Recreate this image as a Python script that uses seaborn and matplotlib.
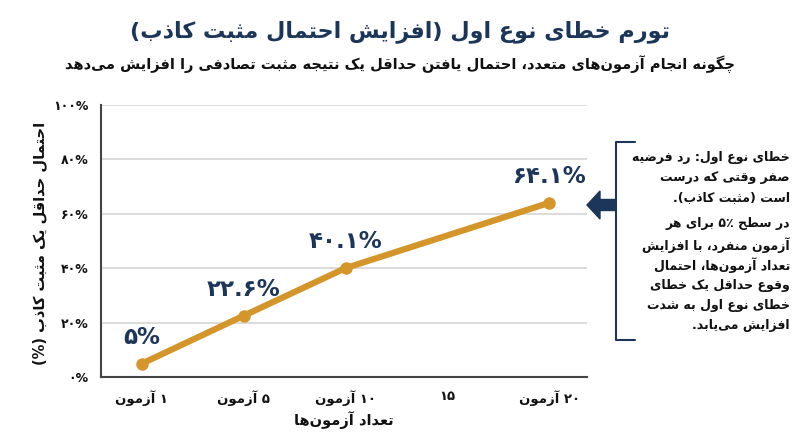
import re
import matplotlib
matplotlib.use("Agg")
import matplotlib.pyplot as plt
import seaborn as sns
from matplotlib.lines import Line2D
from matplotlib.patches import FancyArrow

# --- Data ---
tick_tests = [1, 5, 10, 15, 20]
tick_labels = ["۱ آزمون", "۵ آزمون", "۱۰ آزمون", "۱۵", "۲۰ آزمون"]
tests = [1, 5, 10, 20]
fwer = [5.0, 22.6, 40.1, 64.1]
point_labels = ["۵%", "۲۲.۶%", "۴۰.۱%", "۶۴.۱%"]
y_ticks = [0, 20, 40, 60, 80, 100]
y_tick_labels = ["۰%", "۲۰%", "۴۰%", "۶۰%", "۸۰%", "۱۰۰%"]

title = "تورم خطای نوع اول (افزایش احتمال مثبت کاذب)"
subtitle = "چگونه انجام آزمون‌های متعدد، احتمال یافتن حداقل یک نتیجه مثبت تصادفی را افزایش می‌دهد"
x_label = "تعداد آزمون‌ها"
y_label = "احتمال حداقل یک مثبت کاذب (%)"
note_1 = ["خطای نوع اول: رد فرضیه", "صفر وقتی که درست", "است (مثبت کاذب)."]
note_2 = ["در سطح ۵٪ برای هر", "آزمون منفرد، با افزایش", "تعداد آزمون‌ها، احتمال",
          "وقوع حداقل یک خطای", "خطای نوع اول به شدت", "افزایش می‌یابد."]

# --- Persian shaping (matplotlib has no RTL layout) ---
# letter -> (isolated presentation form, joins to the following letter?)
LETTERS = {
    "ا": (0xFE8D, False), "آ": (0xFE81, False), "ب": (0xFE8F, True), "پ": (0xFB56, True),
    "ت": (0xFE95, True), "ث": (0xFE99, True), "ج": (0xFE9D, True), "چ": (0xFB7A, True),
    "ح": (0xFEA1, True), "خ": (0xFEA5, True), "د": (0xFEA9, False), "ذ": (0xFEAB, False),
    "ر": (0xFEAD, False), "ز": (0xFEAF, False), "ژ": (0xFB8A, False), "س": (0xFEB1, True),
    "ش": (0xFEB5, True), "ص": (0xFEB9, True), "ض": (0xFEBD, True), "ط": (0xFEC1, True),
    "ظ": (0xFEC5, True), "ع": (0xFEC9, True), "غ": (0xFECD, True), "ف": (0xFED1, True),
    "ق": (0xFED5, True), "ک": (0xFB8E, True), "گ": (0xFB92, True), "ل": (0xFEDD, True),
    "م": (0xFEE1, True), "ن": (0xFEE5, True), "و": (0xFEED, False), "ه": (0xFEE9, True),
    "ی": (0xFBFC, True),
}
LAM_ALEF = {"ا": 0xFEFB, "آ": 0xFEF5}
NUM = re.compile(r"[0-9۰-۹]+(?:\.[0-9۰-۹]+)?[%٪]?")
MIRROR = {"(": ")", ")": "("}


def shape(text):
    out, i = [], 0
    while i < len(text):
        c = text[i]
        if c not in LETTERS:
            if c != "\u200c":
                out.append(c)
            i += 1
            continue
        prev = text[i - 1] if i > 0 else ""
        joined_prev = prev in LETTERS and LETTERS[prev][1]
        if c == "ل" and i + 1 < len(text) and text[i + 1] in LAM_ALEF:
            out.append(chr(LAM_ALEF[text[i + 1]] + (1 if joined_prev else 0)))
            i += 2
            continue
        base, dual = LETTERS[c]
        nxt = text[i + 1] if i + 1 < len(text) else ""
        joined_next = dual and nxt in LETTERS
        if joined_prev and joined_next:
            out.append(chr(base + 3))
        elif joined_prev:
            out.append(chr(base + 1))
        elif joined_next:
            out.append(chr(base + 2))
        else:
            out.append(chr(base))
        i += 1
    return "".join(out)


def fa(text):
    s = shape(text)
    tokens, pos = [], 0
    for m in NUM.finditer(s):
        tokens += [MIRROR.get(ch, ch) for ch in s[pos:m.start()]]
        tokens.append(m.group())
        pos = m.end()
    tokens += [MIRROR.get(ch, ch) for ch in s[pos:]]
    return "".join(reversed(tokens))


# --- Style ---
sns.set_style("white")
plt.rcParams["font.family"] = ["DejaVu Sans"]
plt.rcParams["font.weight"] = "bold"
navy = "#1c3659"
gold = "#d4962b"
ink = "#111111"

fig = plt.figure(figsize=(8, 4.47), dpi=100)
ax = fig.add_axes([0.12625, 0.156, 0.6075, 0.609])

x_pos = [tick_tests.index(t) for t in tests]
sns.lineplot(x=x_pos, y=fwer, ax=ax, color=gold, linewidth=4.5,
             marker="o", markersize=9, markeredgewidth=0)

for xp, v, lab in zip(x_pos, fwer, point_labels):
    ax.annotate(fa(lab), (xp, v), xytext=(0, 19), textcoords="offset points",
                ha="center", va="center", fontsize=16.5, fontweight="bold", color=navy)

ax.set_xlim(-0.40, 4.37)
ax.set_ylim(0, 100)
ax.set_xticks(range(len(tick_tests)))
ax.set_xticklabels([fa(t) for t in tick_labels], fontsize=9.5, fontweight="bold")
ax.set_yticks(y_ticks)
ax.set_yticklabels([fa(t) for t in y_tick_labels], fontsize=9, fontweight="bold")
ax.tick_params(axis="both", direction="out", length=5, width=1.2, color="#444444",
               labelcolor=ink, pad=4)
ax.yaxis.grid(True, color="#d9d9d9", linewidth=1.3)
ax.set_axisbelow(True)
sns.despine(ax=ax)
for side in ["left", "bottom"]:
    ax.spines[side].set_color("#444444")
    ax.spines[side].set_linewidth(1.5)

# --- Titles and axis labels ---
fig.text(0.5, 1 - 32 / 447, fa(title), ha="center", va="center",
         fontsize=16, fontweight="bold", color=navy)
fig.text(0.5, 1 - 65 / 447, fa(subtitle), ha="center", va="center",
         fontsize=10.5, fontweight="bold", color=ink)
fig.text(344 / 800, 1 - 420 / 447, fa(x_label), ha="center", va="center",
         fontsize=10.5, fontweight="bold", color=ink)
fig.text(40 / 800, 1 - 243 / 447, fa(y_label), ha="center", va="center",
         rotation=90, fontsize=10.5, fontweight="bold", color=ink)

# --- Side note with bracket and arrow ---
bx = [635 / 800, 616 / 800, 616 / 800, 635 / 800]
by = [1 - 142 / 447, 1 - 142 / 447, 1 - 340 / 447, 1 - 340 / 447]
fig.add_artist(Line2D(bx, by, color=navy, linewidth=1.5, transform=fig.transFigure))
fig.add_artist(FancyArrow(6.16, (447 - 205) / 100, -0.29, 0, width=0.11, head_width=0.28,
                          head_length=0.13, length_includes_head=True, color=navy,
                          transform=fig.dpi_scale_trans))

note_y = [157, 177, 198, 224, 245, 265, 285, 305, 325]
for yy, line in zip(note_y, note_1 + note_2):
    fig.text(790 / 800, 1 - yy / 447, fa(line), ha="right", va="center",
             fontsize=9, fontweight="bold", color=ink)

plt.savefig("out.png", dpi=100)
